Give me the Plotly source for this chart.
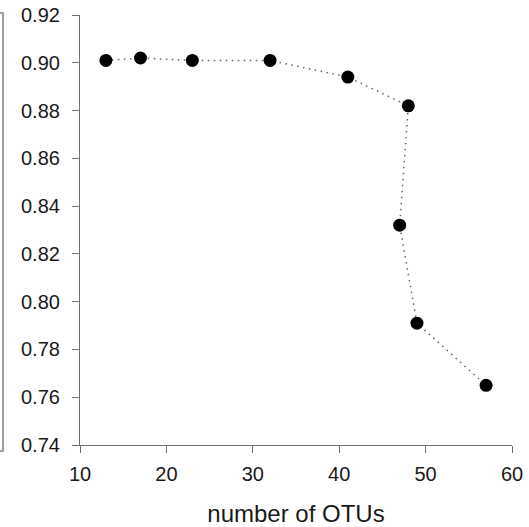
import plotly.graph_objects as go

otus = [13, 17, 23, 32, 41, 48, 47, 49, 57]
score = [0.901, 0.902, 0.901, 0.901, 0.894, 0.882, 0.832, 0.791, 0.765]
x_ticks = [10, 20, 30, 40, 50, 60]
y_ticks = [0.74, 0.76, 0.78, 0.80, 0.82, 0.84, 0.86, 0.88, 0.90, 0.92]

W, H = 529, 527
L, R, T, B = 80, 17, 15, 82
pw, ph = W - L - R, H - T - B

fig = go.Figure()
fig.add_trace(go.Scatter(
    x=otus, y=score, mode="lines+markers",
    line=dict(color="#666666", width=1.5, dash="1.5px,4.5px"),
    marker=dict(color="black", size=13),
    showlegend=False,
))

axis_col = "#707070"
fig.update_xaxes(
    range=[10, 60], tickvals=x_ticks, ticktext=[str(v) for v in x_ticks],
    showline=True, linecolor=axis_col, linewidth=1.2,
    ticks="outside", ticklen=7, tickcolor=axis_col, tickwidth=1.2,
    showgrid=False, zeroline=False, ticklabelstandoff=4,
    tickfont=dict(size=20, color="#1a1a1a"),
    title=dict(text="number of OTUs", font=dict(size=24, color="#1a1a1a"), standoff=27),
)
fig.update_yaxes(
    range=[0.74, 0.92], tickvals=y_ticks, ticktext=[f"{v:.2f}" for v in y_ticks],
    showline=True, linecolor=axis_col, linewidth=1.2,
    ticks="outside", ticklen=7, tickcolor=axis_col, tickwidth=1.2,
    showgrid=False, zeroline=False, ticklabelstandoff=8,
    tickfont=dict(size=20, color="#1a1a1a"),
)

# partial border of neighbouring panel at far left
x0 = (0 - L) / pw
x1 = (3 - L) / pw
ytop = (H - B - 13) / ph
ybot = (H - B - 451) / ph
fig.add_shape(type="path", xref="paper", yref="paper",
              path=f"M {x0},{ytop} L {x1},{ytop} L {x1},{ybot} L {x0},{ybot}",
              line=dict(color="#808080", width=1.5))

fig.update_layout(
    width=W, height=H,
    margin=dict(l=L, r=R, t=T, b=B, autoexpand=False),
    paper_bgcolor="white", plot_bgcolor="white",
    font=dict(family="Liberation Sans, Arial, sans-serif"),
)
fig.write_html("out.html")
